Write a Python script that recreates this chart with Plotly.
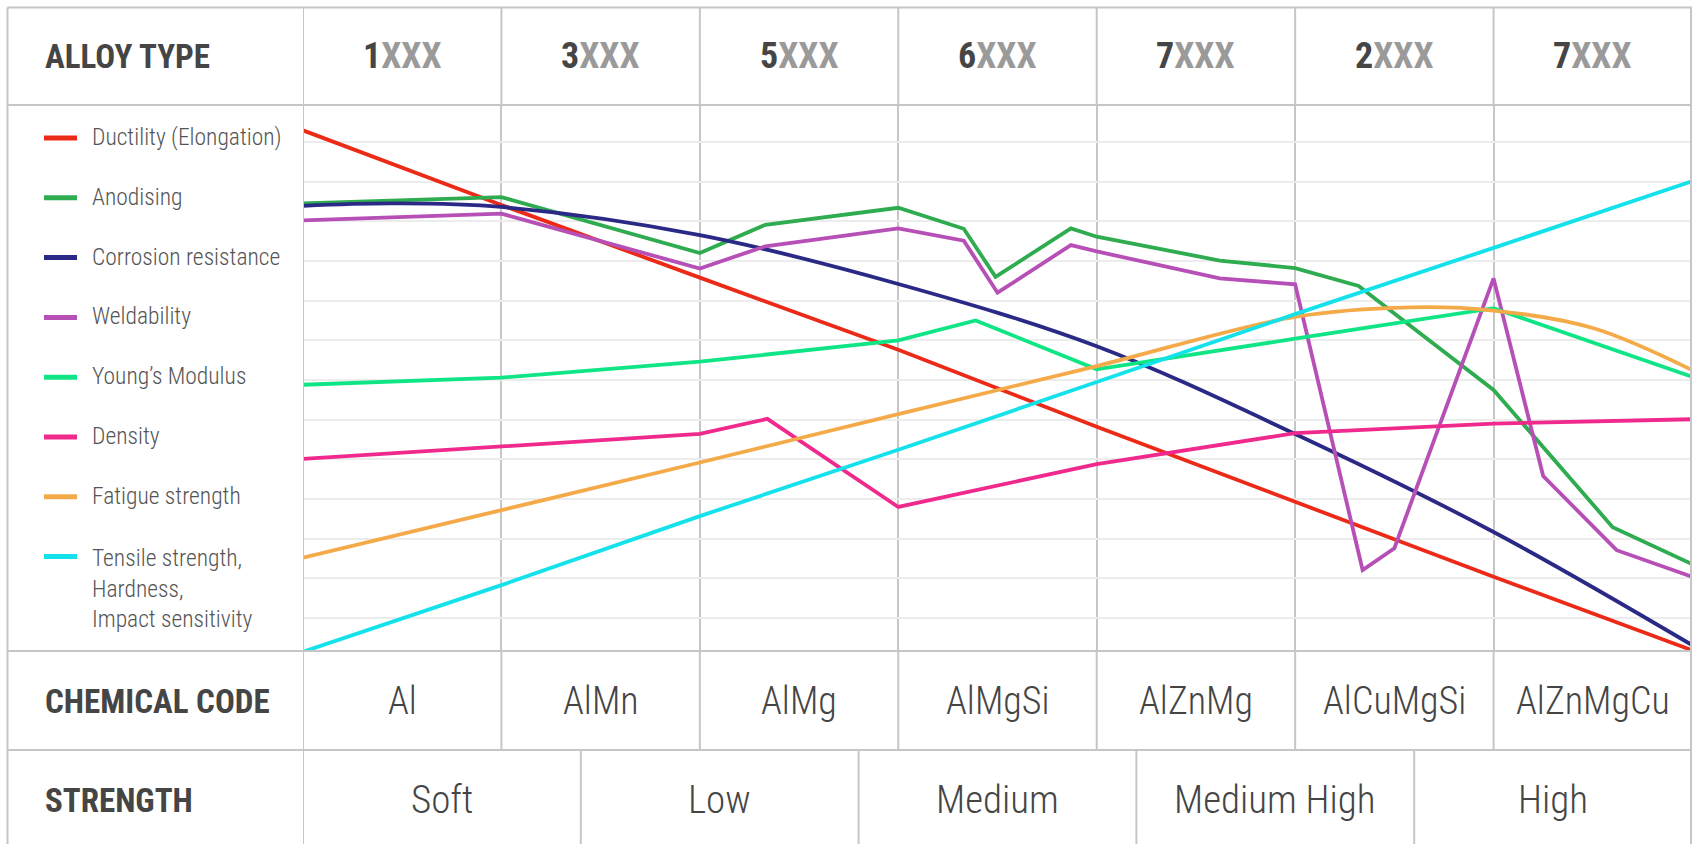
import plotly.graph_objects as go

# ---------------- DATA ----------------
alloy_prefix = ["1", "3", "5", "6", "7", "2", "7"]
alloy_suffix = "XXX"
chem_codes = ["Al", "AlMn", "AlMg", "AlMgSi", "AlZnMg", "AlCuMgSi", "AlZnMgCu"]
strength_levels = ["Soft", "Low", "Medium", "Medium High", "High"]

ductility_x = [0, 1, 2, 3, 4, 5, 6, 7]
ductility_y = [13.29, 11.41, 9.58, 7.76, 5.82, 3.93, 2.04, 0.19]

anodising_x = [0, 1, 2, 2.33, 3, 3.33, 3.49, 3.87, 4, 4.62, 5, 5.32, 6, 6.60, 7]
anodising_y = [11.45, 11.61, 10.20, 10.91, 11.34, 10.81, 9.60, 10.82, 10.61, 10.01, 9.82, 9.37, 6.75, 3.29, 2.36]

corrosion_x = [0, 0.45, 1, 2, 3, 4, 5, 6, 7]
corrosion_y = [11.39, 11.45, 11.36, 10.65, 9.42, 7.85, 5.64, 3.17, 0.32]

weld_x = [0, 1, 2, 2.33, 3, 3.33, 3.50, 3.87, 4, 4.62, 5, 5.34, 5.50, 6, 6.25, 6.62, 7]
weld_y = [11.02, 11.19, 9.81, 10.37, 10.82, 10.51, 9.20, 10.40, 10.24, 9.56, 9.41, 2.21, 2.76, 9.56, 4.58, 2.71, 2.04]

young_x = [0, 1, 2, 3, 3.39, 4, 5, 6, 7]
young_y = [6.88, 7.06, 7.46, 8.00, 8.50, 7.27, 8.04, 8.81, 7.08]

density_x = [0, 1, 2, 2.34, 3, 4, 5, 6, 7]
density_y = [5.01, 5.33, 5.64, 6.02, 3.80, 4.88, 5.66, 5.90, 6.01]

fatigue_x = [0, 1, 2, 3, 4, 5, 5.58, 6, 6.5, 7]
fatigue_y = [2.52, 3.72, 4.92, 6.14, 7.35, 8.59, 8.83, 8.75, 8.31, 7.25]

tensile_x = [0, 1, 2, 3, 4, 5, 6, 7]
tensile_y = [0.15, 1.83, 3.57, 5.24, 6.95, 8.66, 10.33, 12.01]

series = [
    ("Ductility (Elongation)", ductility_x, ductility_y, "#ec2a18", "linear"),
    ("Anodising", anodising_x, anodising_y, "#2fab50", "linear"),
    ("Corrosion resistance", corrosion_x, corrosion_y, "#2a2a86", "spline"),
    ("Weldability", weld_x, weld_y, "#b64fb6", "linear"),
    ("Young’s Modulus", young_x, young_y, "#0fe585", "linear"),
    ("Density", density_x, density_y, "#ef2a8c", "linear"),
    ("Fatigue strength", fatigue_x, fatigue_y, "#f5aa4a", "spline"),
    ("Tensile strength,<br>Hardness,<br>Impact sensitivity", tensile_x, tensile_y, "#14e2ea", "linear"),
]

# ---------------- LAYOUT CONSTANTS ----------------
W, H = 1692, 844
PL, PR, PT, PB = 303, 1692, 105, 651
TOP, LEFT = 7.5, 7.5
CHEM_BOTTOM, BOTTOM = 750, 844
GRID = "#c6c6c6"
NARROW = "Liberation Sans Narrow, Arial Narrow, Roboto Condensed, DejaVu Sans Condensed, sans-serif"
LIGHT = "Roboto Condensed, Liberation Sans Narrow, Arial Narrow, DejaVu Sans Condensed, sans-serif"
DARK = "#454545"


def pxx(px):
    return (px - PL) / (PR - PL)


def pyy(py):
    return (PB - py) / (PB - PT)


fig = go.Figure()
for name, xs, ys, col, shape in series:
    fig.add_trace(go.Scatter(x=xs, y=ys, mode="lines", name=name,
                             line=dict(color=col, width=3.8, shape=shape),
                             showlegend=False, hoverinfo="skip"))

shapes = []


def hline(py, x0=LEFT, x1=PR, color=GRID):
    shapes.append(dict(type="line", xref="paper", yref="paper", x0=pxx(x0), x1=pxx(x1),
                       y0=pyy(py), y1=pyy(py), line=dict(color=color, width=2), layer="above"))


def vline_u(u, py0, py1):
    shapes.append(dict(type="line", xref="x", yref="paper", x0=u, x1=u,
                       y0=pyy(py0), y1=pyy(py1), line=dict(color=GRID, width=2), layer="above"))


for py in [TOP, PT, PB, CHEM_BOTTOM]:
    hline(py)
shapes.append(dict(type="line", xref="paper", yref="paper", x0=pxx(LEFT), x1=pxx(LEFT),
                   y0=pyy(TOP), y1=pyy(BOTTOM), line=dict(color=GRID, width=2)))
shapes.append(dict(type="line", xref="paper", yref="paper", x0=pxx(PR - 1), x1=pxx(PR - 1),
                   y0=pyy(TOP), y1=pyy(BOTTOM), line=dict(color=GRID, width=2)))
vline_u(0, TOP, BOTTOM)
ncols = len(chem_codes)
for i in range(1, ncols):
    vline_u(i, TOP, PT)
    vline_u(i, PB, CHEM_BOTTOM)
nstr = len(strength_levels)
step = ncols / nstr
for k in range(1, nstr):
    vline_u(k * step, CHEM_BOTTOM, BOTTOM)

ann = []
for text, py in [("ALLOY TYPE", 56), ("CHEMICAL CODE", 701), ("STRENGTH", 800)]:
    ann.append(dict(text="<b>%s</b>" % text, xref="paper", yref="paper", x=pxx(43), y=pyy(py),
                    xanchor="left", yanchor="middle", showarrow=False,
                    font=dict(family=NARROW, size=33, color=DARK)))
for i, p in enumerate(alloy_prefix):
    ann.append(dict(text="<b>%s<span style='color:#9a9a9a'>%s</span></b>" % (p, alloy_suffix),
                    xref="x", yref="paper", x=i + 0.5, y=pyy(56), xanchor="center", yanchor="middle",
                    showarrow=False, font=dict(family=NARROW, size=36, color=DARK)))
for i, c in enumerate(chem_codes):
    ann.append(dict(text=c, xref="x", yref="paper", x=i + 0.5, y=pyy(701), xanchor="center",
                    yanchor="middle", showarrow=False,
                    font=dict(family=LIGHT, size=38, color=DARK, weight=300)))
for k, s in enumerate(strength_levels):
    ann.append(dict(text=s, xref="x", yref="paper", x=(k + 0.5) * step, y=pyy(800), xanchor="center",
                    yanchor="middle", showarrow=False,
                    font=dict(family=LIGHT, size=39, color=DARK, weight=300)))
LEG_Y0, LEG_DY = 137, 59.8
for i, (name, xs, ys, col, shape) in enumerate(series):
    y = LEG_Y0 + LEG_DY * i
    nlines = name.count("<br>") + 1
    ty = y + (nlines - 1) * 33 / 2
    ann.append(dict(text=name, xref="paper", yref="paper", x=pxx(90), y=pyy(ty), xanchor="left",
                    yanchor="middle", align="left", showarrow=False,
                    font=dict(family=LIGHT, size=23.5, color="#555555", weight=300)))
    shapes.append(dict(type="line", xref="paper", yref="paper", x0=pxx(44), x1=pxx(77),
                       y0=pyy(y + 1), y1=pyy(y + 1), line=dict(color=col, width=5)))

fig.update_layout(
    width=W, height=H,
    margin=dict(l=PL, r=W - PR, t=PT, b=H - PB, pad=0),
    paper_bgcolor="white", plot_bgcolor="white",
    xaxis=dict(range=[0, ncols], dtick=1, tick0=0, showgrid=True, gridcolor=GRID, gridwidth=2,
               showticklabels=False, zeroline=False, showline=False, ticks=""),
    yaxis=dict(range=[0.17, 13.93], dtick=1, tick0=0, showgrid=True, gridcolor="#ececec", gridwidth=2,
               showticklabels=False, zeroline=False, showline=False, ticks=""),
    shapes=shapes, annotations=ann, showlegend=False,
)

fig.write_html("out.html")
